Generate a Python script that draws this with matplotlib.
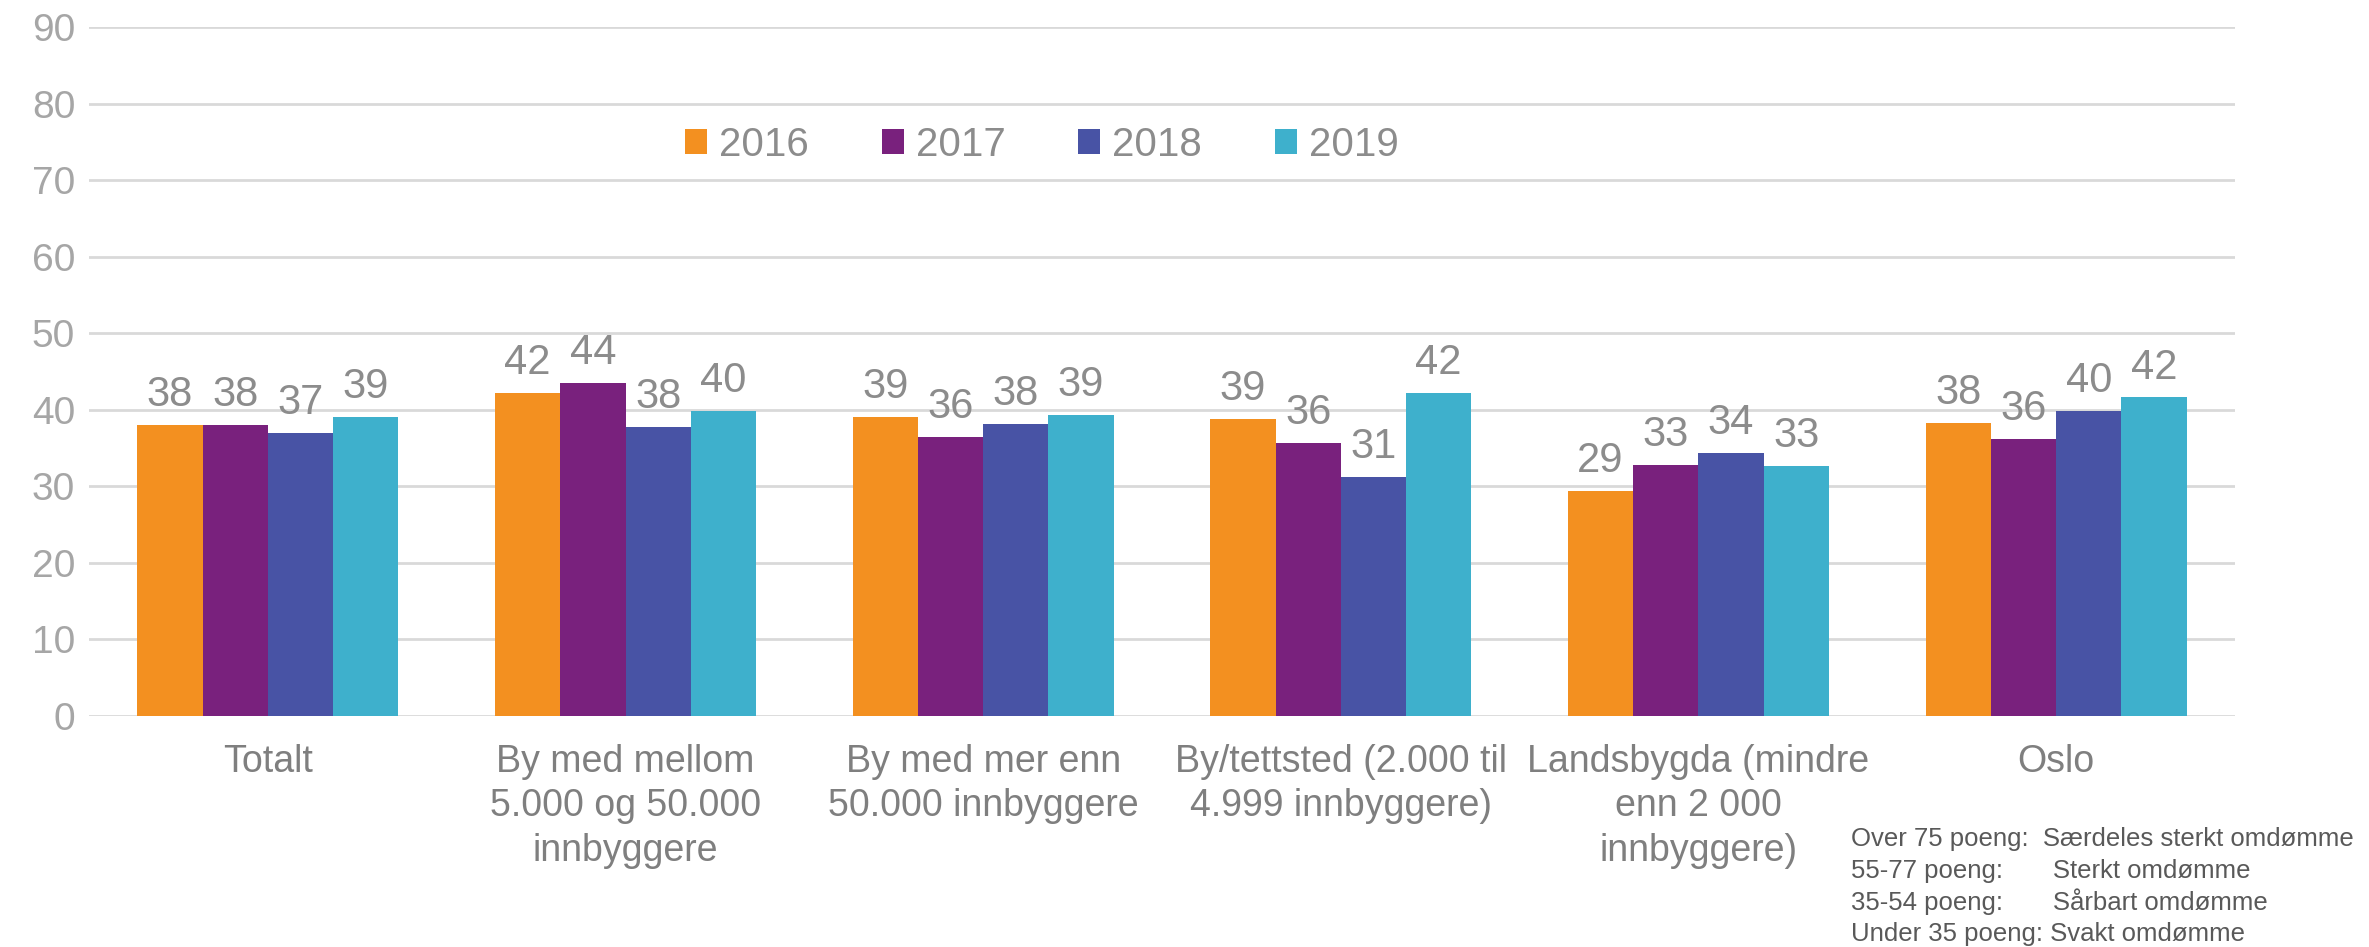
import numpy as np
import matplotlib.pyplot as plt

# Omdømme per bostedstype, 2016-2019
categories = ["Totalt",
              "By med mellom\n5.000 og 50.000\ninnbyggere",
              "By med mer enn\n50.000 innbyggere",
              "By/tettsted (2.000 til\n4.999 innbyggere)",
              "Landsbygda (mindre\nenn 2 000\ninnbyggere)",
              "Oslo"]
years = ["2016", "2017", "2018", "2019"]
v2016 = [38.0, 42.2, 39.1, 38.8, 29.4, 38.3]
v2017 = [38.0, 43.5, 36.5, 35.7, 32.8, 36.2]
v2018 = [37.0, 37.8, 38.1, 31.2, 34.4, 39.9]
v2019 = [39.1, 39.9, 39.3, 42.2, 32.6, 41.6]
series = [v2016, v2017, v2018, v2019]
colors = ["#F39020", "#79217D", "#4853A5", "#3EB0CC"]

note_lines = ["Over 75 poeng:  Særdeles sterkt omdømme",
              "55-77 poeng:       Sterkt omdømme",
              "35-54 poeng:       Sårbart omdømme",
              "Under 35 poeng: Svakt omdømme"]

plt.rcParams['font.family'] = ['Liberation Sans', 'DejaVu Sans']

fig = plt.figure(figsize=(23.69, 9.47), dpi=100)
ax = fig.add_axes([0.0376, 0.244, 0.9058, 0.7275])

x = np.arange(len(categories))
w = 0.1825
for i, (vals, col) in enumerate(zip(series, colors)):
    pos = x + (i - 1.5) * w
    bars = ax.bar(pos, vals, width=w, color=col, label=years[i], zorder=3)
    for b, v in zip(bars, vals):
        ax.text(b.get_x() + b.get_width() / 2, v + 1.3, f"{v:.0f}",
                ha='center', va='bottom', fontsize=30, color='#8C8C8C')

ax.set_xlim(-0.5, len(categories) - 0.5)
ax.set_ylim(0, 90)
ax.set_yticks(range(0, 91, 10))
ax.yaxis.grid(True, color='#D9D9D9', linewidth=2, zorder=0)
ax.set_axisbelow(True)
for s in ax.spines.values():
    s.set_visible(False)
ax.tick_params(axis='both', length=0)
ax.tick_params(axis='y', labelsize=28, labelcolor='#A6A6A6', pad=10)
ax.set_xticks(x)
ax.set_xticklabels(categories, fontsize=27, color='#7F7F7F', linespacing=1.3)
ax.tick_params(axis='x', pad=20)

leg = ax.legend(loc='center', bbox_to_anchor=(0.444, 0.829), ncol=4,
                frameon=False, handlelength=0.55, handleheight=0.6,
                handletextpad=0.3, columnspacing=1.8,
                prop={'size': 29})
for t in leg.get_texts():
    t.set_color('#8C8C8C')

for k, line in enumerate(note_lines):
    fig.text(0.7815, 1 - (839 + 31.5 * k) / 947, line, fontsize=18.5,
             color='#595959', va='center', ha='left')

fig.savefig("out.png", dpi=100)
